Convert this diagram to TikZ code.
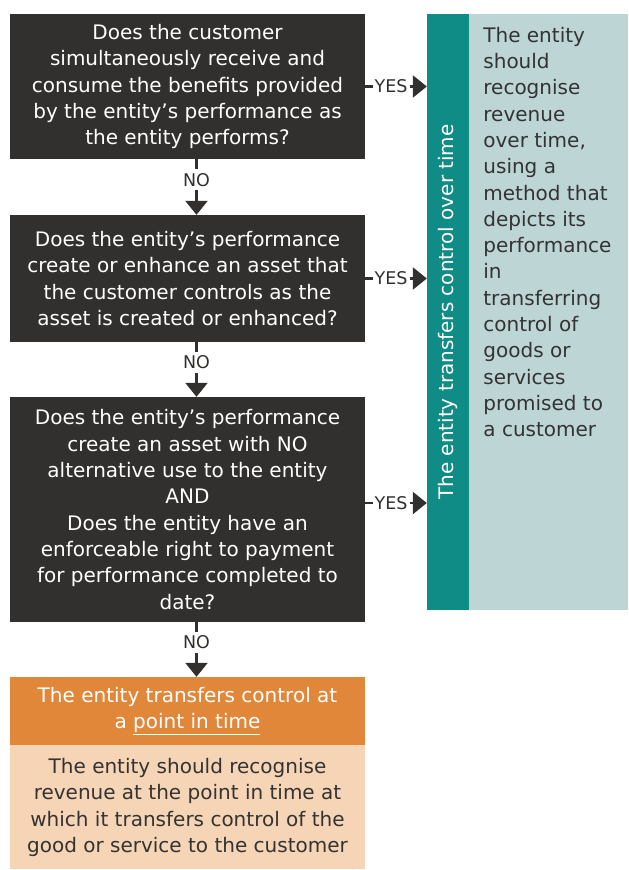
\documentclass[tikz,border=0pt]{standalone}
\usepackage{fontspec}
\setmainfont{DejaVu Sans}
\usetikzlibrary{arrows.meta}

\definecolor{grigio}{HTML}{32302E}
\definecolor{verde}{HTML}{0F8C86}
\definecolor{azzurro}{HTML}{BED5D6}
\definecolor{arancio}{HTML}{E0873A}
\definecolor{pesca}{HTML}{F6D5B7}
\definecolor{testo}{HTML}{333333}

\begin{document}
\begin{tikzpicture}[x=1pt, y=1pt,
        domanda/.style={fill=grigio, text=white, minimum width=355pt, inner sep=0pt, align=center, font=\fontsize{20}{26.3}\selectfont},
        freccia/.style={line width=2.5pt, draw=grigio, -{Triangle[width=22pt, length=14pt]}},
        etichetta/.style={fill=white, text=grigio, inner xsep=2pt, inner ysep=4pt, font=\fontsize{17.5}{18}\selectfont}]

    \useasboundingbox (0,0) rectangle (629,-870);

    % Domande
    \node[domanda, minimum height=145pt] (q1) at (187.5,-86.5) {Does the customer\\simultaneously receive and\\consume the benefits provided\\by the entity’s performance as\\the entity performs?};
    \node[domanda, minimum height=127pt] (q2) at (187.5,-278.5) {Does the entity’s performance\\create or enhance an asset that\\the customer controls as the\\asset is created or enhanced?};
    \node[domanda, minimum height=225pt] (q3) at (187.5,-509.5) {Does the entity’s performance\\create an asset with NO\\alternative use to the entity\\AND\\Does the entity have an\\enforceable right to payment\\for performance completed to\\date?};

    % Controllo nel tempo
    \node[fill=verde, text=white, rotate=90, minimum width=596pt, minimum height=42pt, inner sep=0pt, font=\fontsize{20}{24}\selectfont] (barra) at (448,-312) {The entity transfers control over time};
    \node[fill=azzurro, minimum width=159pt, minimum height=596pt, inner sep=0pt, anchor=west] (pannello) at (barra.south) {};
    \node[anchor=north west, text=testo, align=left, inner sep=0pt, font=\fontsize{20}{26.3}\selectfont] (metodo) at ([xshift=14pt, yshift=-13pt]pannello.north west) {The entity\\should\\recognise\\revenue\\over time,\\using a\\method that\\depicts its\\performance\\in\\transferring\\control of\\goods or\\services\\promised to\\a customer};

    % Controllo in un momento
    \node[fill=arancio, text=white, minimum width=355pt, minimum height=68pt, inner sep=0pt, align=center, font=\fontsize{20}{26.3}\selectfont] (punto) at (187.5,-711) {The entity transfers control at\\a \underline{point in time}};
    \node[fill=pesca, text=testo, minimum width=355pt, minimum height=124pt, inner sep=0pt, align=center, anchor=north, font=\fontsize{20}{26.3}\selectfont] (ricavi) at (punto.south) {The entity should recognise\\revenue at the point in time at\\which it transfers control of the\\good or service to the customer};

    % Frecce NO
    \draw[freccia] ([xshift=9pt]q1.south) -- node[etichetta, pos=0.37] {NO} ([xshift=9pt]q2.north);
    \draw[freccia] ([xshift=9pt]q2.south) -- node[etichetta, pos=0.37] {NO} ([xshift=9pt]q3.north);
    \draw[freccia] ([xshift=9pt]q3.south) -- node[etichetta, pos=0.37] {NO} ([xshift=9pt]punto.north);

    % Frecce YES
    \coordinate (s3) at ([yshift=6.5pt]q3.east);
    \draw[freccia] (q1.east) -- node[etichetta, pos=0.42] {YES} (q1.east -| barra.north);
    \draw[freccia] (q2.east) -- node[etichetta, pos=0.42] {YES} (q2.east -| barra.north);
    \draw[freccia] (s3) -- node[etichetta, pos=0.42] {YES} (s3 -| barra.north);
\end{tikzpicture}
\end{document}
